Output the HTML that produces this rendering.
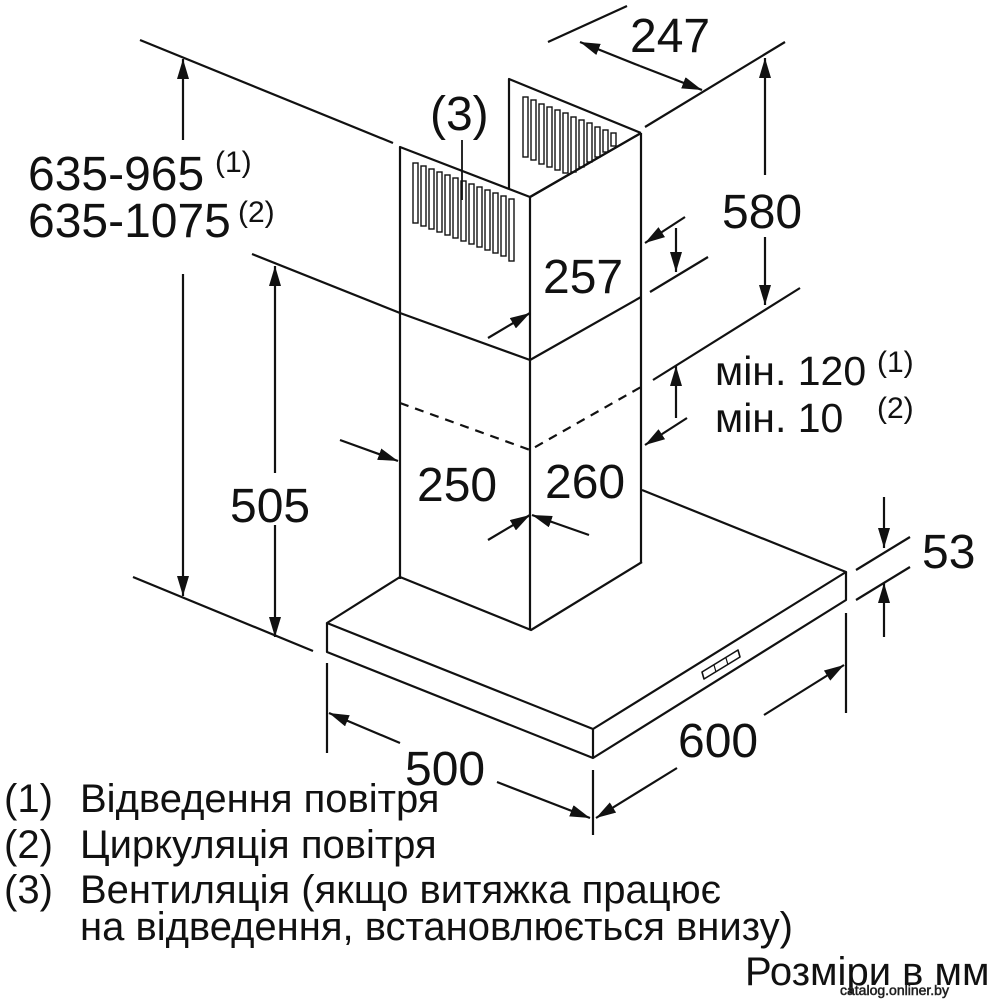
<!DOCTYPE html>
<html><head><meta charset="utf-8"><style>
html,body{margin:0;padding:0;background:#fff;}
svg{display:block}
text{font-family:"Liberation Sans",sans-serif;fill:#111}
</style></head><body>
<svg width="1000" height="1000" viewBox="0 0 1000 1000" xmlns="http://www.w3.org/2000/svg">
<defs>
<marker id="a" viewBox="0 0 20 12" refX="20" refY="6" markerWidth="20" markerHeight="12" markerUnits="userSpaceOnUse" orient="auto"><path d="M0,0 L20,6 L0,12 z" fill="#111"/></marker>
</defs>
<g stroke="#111" stroke-width="2.2" fill="none" stroke-linejoin="round">
<polyline points="400,579 400,147 530,197 641,133"/>
<line x1="530" y1="197" x2="530" y2="630"/>
<line x1="641" y1="133" x2="641" y2="562"/>
<polyline points="509,189 509,79 641,133"/>
<polyline points="252,254 400,313 530,360 641,297"/>
<polyline points="400,403 530,450 641,387" stroke-dasharray="9,7"/>
<polyline points="400,577 531,630 642,562"/>
<polyline points="400,577 327,623 593,729 846,572 642,490"/>
<polyline points="327,623 327,652 593,758 846,600 846,572"/>
<line x1="593" y1="729" x2="593" y2="758"/>
<polygon points="702,672 738,650 740,657 704,679" stroke-width="1.6"/>
<line x1="714" y1="665" x2="716" y2="672" stroke-width="1.2"/>
<line x1="726" y1="658" x2="728" y2="665" stroke-width="1.2"/>
<line x1="140" y1="40" x2="393" y2="143"/>
<line x1="133" y1="577" x2="313" y2="651"/>
<line x1="548" y1="42" x2="627" y2="6"/>
<line x1="645" y1="127" x2="785" y2="42"/>
<line x1="653" y1="380" x2="800" y2="288"/>
<line x1="650" y1="292" x2="708" y2="257"/>
<line x1="856" y1="570" x2="910" y2="537"/>
<line x1="856" y1="600" x2="910" y2="567"/>
<line x1="327" y1="663" x2="327" y2="753"/>
<line x1="593" y1="770" x2="593" y2="835"/>
<line x1="846" y1="613" x2="846" y2="713"/>
<g marker-end="url(#a)">
<line x1="183" y1="140" x2="183" y2="59"/>
<line x1="183" y1="274" x2="183" y2="596"/>
<line x1="275" y1="473" x2="275" y2="266"/>
<line x1="275" y1="525" x2="275" y2="637"/>
<line x1="640" y1="66" x2="580" y2="42"/>
<line x1="640" y1="66" x2="702" y2="90"/>
<line x1="765" y1="175" x2="765" y2="58"/>
<line x1="765" y1="237" x2="765" y2="305"/>
<line x1="488" y1="338" x2="530" y2="313"/>
<line x1="685" y1="217" x2="645" y2="243"/>
<line x1="676" y1="228" x2="676" y2="272"/>
<line x1="676" y1="418" x2="676" y2="366"/>
<line x1="687" y1="418" x2="645" y2="445"/>
<line x1="340" y1="440" x2="398" y2="461"/>
<line x1="488" y1="540" x2="530" y2="515"/>
<line x1="589" y1="535" x2="532" y2="515"/>
<line x1="884" y1="497" x2="884" y2="548"/>
<line x1="884" y1="637" x2="884" y2="583"/>
<line x1="400" y1="743" x2="329" y2="713"/>
<line x1="497" y1="782" x2="590" y2="818"/>
<line x1="677" y1="768" x2="596" y2="818"/>
<line x1="764" y1="715" x2="844" y2="665"/>
</g>
</g>
<g stroke="#111" stroke-width="1.4" fill="#fff">
<rect x="413" y="163" width="5" height="60"/>
<rect x="421" y="166" width="5" height="60"/>
<rect x="429" y="169" width="5" height="60"/>
<rect x="437" y="172" width="5" height="60"/>
<rect x="445" y="175" width="5" height="60"/>
<rect x="453" y="178" width="5" height="60"/>
<rect x="461" y="181" width="5" height="60"/>
<rect x="469" y="184" width="5" height="60"/>
<rect x="477" y="187" width="5" height="60"/>
<rect x="485" y="190" width="5" height="60"/>
<rect x="493" y="193" width="5" height="60"/>
<rect x="501" y="196" width="5" height="60"/>
<rect x="509" y="199" width="5" height="62"/>
<rect x="523" y="97" width="5" height="60"/>
<rect x="531" y="100" width="5" height="60"/>
<rect x="539" y="104" width="5" height="60"/>
<rect x="547" y="107" width="5" height="60"/>
<rect x="555" y="110" width="5" height="60"/>
<rect x="563" y="113" width="5" height="60"/>
<rect x="571" y="117" width="5" height="55"/>
<rect x="579" y="120" width="5" height="47"/>
<rect x="587" y="123" width="5" height="39"/>
<rect x="595" y="127" width="5" height="30"/>
<rect x="603" y="130" width="5" height="22"/>
<rect x="611" y="133" width="5" height="13"/>
</g>
<line x1="530" y1="197" x2="641" y2="133" stroke="#111" stroke-width="2.2"/>
<line x1="462" y1="140" x2="462" y2="200" stroke="#111" stroke-width="1.8"/>
<g font-size="48">
<text x="28" y="190">635-965</text>
<text x="28" y="237">635-1075</text>
<text x="430" y="130">(3)</text>
<text x="630" y="52">247</text>
<text x="722" y="228">580</text>
<text x="543" y="293">257</text>
<text x="417" y="501">250</text>
<text x="545" y="498">260</text>
<text x="230" y="522">505</text>
<text x="922" y="568">53</text>
<text x="678" y="757">600</text>
<text x="405" y="785">500</text>
</g>
<g font-size="30">
<text x="215" y="172">(1)</text>
<text x="238" y="222">(2)</text>
<text x="877" y="372">(1)</text>
<text x="877" y="418">(2)</text>
</g>
<g font-size="41">
<text x="715" y="385">мін. 120</text>
<text x="715" y="432">мін. 10</text>
</g>
<g font-size="40">
<text x="4" y="812">(1)</text><text x="80" y="812">Відведення повітря</text>
<text x="4" y="858">(2)</text><text x="80" y="858">Циркуляція повітря</text>
<text x="4" y="903">(3)</text><text x="80" y="903">Вентиляція (якщо витяжка працює</text>
<text x="80" y="940">на відведення, встановлюється внизу)</text>
<text x="745" y="985">Розміри в мм</text>
</g>
<text x="840" y="995" font-size="14" fill="#fff" stroke="#333" stroke-width="0.6">catalog.onliner.by</text>
</svg>
</body></html>
